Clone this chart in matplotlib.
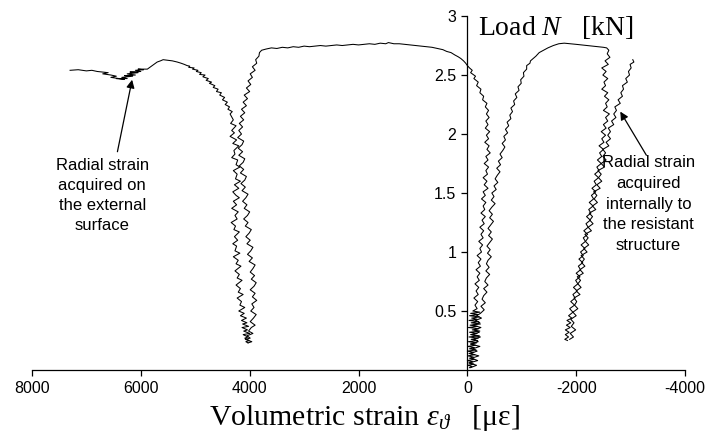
import matplotlib
matplotlib.use('Agg')
import matplotlib.pyplot as plt

plt.rcParams['font.family'] = ['Liberation Sans', 'DejaVu Sans']
plt.rcParams['mathtext.fontset'] = 'custom'
plt.rcParams['mathtext.rm'] = 'Liberation Serif'
plt.rcParams['mathtext.it'] = 'Liberation Serif:italic'

# (strain [microstrain], load [kN])

# radial strain on the external surface: left plateau, then left branch of the left V
ext_pts = [
    (7300, 2.54), (7150, 2.545), (7000, 2.535), (6900, 2.54), (6800, 2.53), (6700, 2.525),
    (6600, 2.52), (6700, 2.51), (6550, 2.50), (6450, 2.49), (6550, 2.48), (6400, 2.47),
    (6300, 2.465), (6450, 2.47), (6250, 2.47), (6350, 2.48), (6150, 2.49), (6300, 2.495),
    (6100, 2.50), (6250, 2.51), (6050, 2.52), (6200, 2.525), (6000, 2.53), (6100, 2.54),
    (5950, 2.545), (6050, 2.55), (5880, 2.55), (5820, 2.57), (5760, 2.59), (5700, 2.61),
    (5640, 2.62), (5590, 2.63), (5500, 2.625), (5420, 2.62), (5330, 2.61), (5260, 2.60),
    (5200, 2.59), (5150, 2.58), (5100, 2.575), (5120, 2.565), (5020, 2.56), (5050, 2.55),
    (4950, 2.54), (4980, 2.53), (4890, 2.52), (4920, 2.505), (4820, 2.50), (4860, 2.485),
    (4760, 2.47), (4800, 2.455), (4700, 2.44), (4740, 2.43), (4640, 2.41), (4670, 2.395),
    (4580, 2.38), (4610, 2.36), (4520, 2.35), (4550, 2.33), (4460, 2.31), (4500, 2.29),
    (4410, 2.27), (4450, 2.25), (4370, 2.23), (4400, 2.21), (4320, 2.19), (4360, 2.17),
    (4300, 2.12), (4350, 2.09), (4250, 2.07), (4330, 2.03), (4280, 2.01), (4360, 1.98),
    (4240, 1.95), (4310, 1.92), (4200, 1.90), (4290, 1.86), (4270, 1.83), (4330, 1.80),
    (4220, 1.78), (4250, 1.74), (4180, 1.72), (4300, 1.69), (4230, 1.66), (4260, 1.62),
    (4170, 1.60), (4280, 1.57), (4200, 1.54), (4310, 1.51), (4250, 1.48), (4190, 1.46),
    (4300, 1.43), (4240, 1.40), (4330, 1.37), (4210, 1.34), (4270, 1.31), (4230, 1.28),
    (4340, 1.25), (4260, 1.22), (4290, 1.19), (4190, 1.17), (4280, 1.13), (4220, 1.10),
    (4310, 1.07), (4240, 1.05), (4270, 1.01), (4180, 0.99), (4300, 0.96), (4210, 0.93),
    (4250, 0.90), (4160, 0.88), (4270, 0.84), (4190, 0.81), (4230, 0.78), (4140, 0.76),
    (4250, 0.72), (4170, 0.69), (4210, 0.66), (4120, 0.64), (4230, 0.61), (4150, 0.58),
    (4180, 0.55), (4090, 0.53), (4200, 0.50), (4100, 0.48), (4170, 0.46), (4060, 0.44),
    (4150, 0.42), (4050, 0.40), (4130, 0.39), (4020, 0.37), (4140, 0.36), (4040, 0.34),
    (4110, 0.33), (4000, 0.31), (4120, 0.30), (4030, 0.28), (4090, 0.27), (4010, 0.25),
    (4070, 0.24), (4030, 0.23),
]

# volumetric strain, first record: right branch of left V, long plateau, down to zero
vol1_pts = [
    (4030, 0.23), (3960, 0.24), (4080, 0.26), (3990, 0.27), (4050, 0.29), (3940, 0.31),
    (4020, 0.33), (3970, 0.36), (3900, 0.38), (3990, 0.41), (3930, 0.44), (3880, 0.47),
    (3980, 0.50), (3920, 0.53), (3960, 0.56), (3870, 0.59), (3950, 0.62), (3900, 0.65),
    (3990, 0.68), (3920, 0.71), (3880, 0.74), (3970, 0.77), (3910, 0.80), (3990, 0.83),
    (3940, 0.86), (3900, 0.89), (4010, 0.92), (3950, 0.95), (4040, 0.98), (3980, 1.01),
    (3940, 1.04), (4050, 1.07), (3990, 1.10), (4070, 1.13), (4010, 1.16), (3970, 1.19),
    (4080, 1.22), (4030, 1.25), (4110, 1.28), (4040, 1.31), (4000, 1.34), (4100, 1.37),
    (4050, 1.40), (4130, 1.43), (4070, 1.46), (4030, 1.49), (4140, 1.52), (4080, 1.55),
    (4160, 1.58), (4090, 1.61), (4060, 1.64), (4170, 1.67), (4110, 1.70), (4190, 1.73),
    (4120, 1.76), (4090, 1.79), (4200, 1.82), (4130, 1.85), (4210, 1.88), (4140, 1.91),
    (4110, 1.94), (4220, 1.97), (4150, 2.00), (4200, 2.03), (4130, 2.06), (4190, 2.09),
    (4110, 2.12), (4170, 2.15), (4090, 2.18), (4150, 2.21), (4060, 2.24), (4120, 2.27),
    (4040, 2.30), (4100, 2.33), (4000, 2.36), (4060, 2.39), (3980, 2.42), (4030, 2.45),
    (3950, 2.48), (3990, 2.51), (3900, 2.54), (3950, 2.57), (3870, 2.60), (3890, 2.63),
    (3830, 2.66), (3820, 2.69), (3780, 2.71), (3700, 2.72), (3600, 2.73), (3500, 2.725),
    (3400, 2.735), (3300, 2.73), (3200, 2.74), (3100, 2.735), (3000, 2.745), (2900, 2.74),
    (2800, 2.745), (2700, 2.75), (2600, 2.745), (2500, 2.75), (2400, 2.755), (2300, 2.75),
    (2200, 2.755), (2100, 2.76), (2000, 2.755), (1900, 2.76), (1800, 2.765), (1700, 2.76),
    (1600, 2.77), (1500, 2.765), (1450, 2.775), (1350, 2.765), (1250, 2.765), (1150, 2.76),
    (1050, 2.755), (950, 2.75), (850, 2.745), (750, 2.74), (650, 2.735), (550, 2.725),
    (450, 2.715), (380, 2.70), (300, 2.69), (230, 2.67), (170, 2.655), (120, 2.64),
    (70, 2.62), (30, 2.60), (0, 2.58), (-40, 2.56), (-90, 2.54), (-60, 2.52),
    (-150, 2.49), (-120, 2.47), (-200, 2.44), (-170, 2.41), (-250, 2.38), (-230, 2.35),
    (-300, 2.32), (-280, 2.29), (-360, 2.26), (-330, 2.23), (-390, 2.20), (-350, 2.17),
    (-400, 2.14), (-340, 2.11), (-380, 2.08), (-330, 2.05), (-410, 2.02), (-350, 1.99),
    (-390, 1.96), (-320, 1.93), (-400, 1.90), (-360, 1.87), (-420, 1.84), (-340, 1.81),
    (-380, 1.78), (-310, 1.75), (-390, 1.72), (-340, 1.69), (-370, 1.66), (-290, 1.63),
    (-360, 1.60), (-310, 1.57), (-380, 1.54), (-290, 1.51), (-330, 1.48), (-260, 1.45),
    (-340, 1.42), (-290, 1.39), (-320, 1.36), (-250, 1.33), (-330, 1.30), (-270, 1.27),
    (-310, 1.24), (-230, 1.21), (-300, 1.18), (-250, 1.15), (-290, 1.12), (-210, 1.09),
    (-280, 1.06), (-230, 1.03), (-260, 1.00), (-180, 0.97), (-250, 0.94), (-200, 0.91),
    (-240, 0.88), (-160, 0.85), (-230, 0.82), (-180, 0.79), (-220, 0.76), (-140, 0.73),
    (-210, 0.70), (-160, 0.67), (-200, 0.64), (-120, 0.61), (-190, 0.58), (-140, 0.55),
    (-180, 0.52), (-100, 0.50), (-230, 0.49), (-60, 0.48), (-200, 0.47), (-40, 0.46),
    (-220, 0.45), (-80, 0.44), (-180, 0.43), (-30, 0.42), (-210, 0.41), (-70, 0.40),
    (-240, 0.39), (-50, 0.38), (-190, 0.37), (-20, 0.36), (-210, 0.35), (-90, 0.34),
    (-230, 0.33), (-40, 0.32), (-180, 0.31), (-60, 0.30), (-220, 0.29), (-30, 0.28),
    (-200, 0.27), (-70, 0.26), (-190, 0.25), (-20, 0.24), (-170, 0.23), (-60, 0.22),
    (-150, 0.21), (-10, 0.20), (-130, 0.19), (-40, 0.18), (-160, 0.17), (0, 0.16),
    (-120, 0.15), (-30, 0.14), (-140, 0.13), (-10, 0.12), (-110, 0.11), (-40, 0.10),
    (-130, 0.09), (0, 0.08), (-100, 0.07), (-30, 0.06), (-120, 0.05), (-10, 0.04),
    (-90, 0.03), (-40, 0.02),
]

# volumetric strain, second record: up from zero, right plateau, left branch of right V
vol2_pts = [
    (-60, 0.02), (-170, 0.04), (-30, 0.06), (-190, 0.08), (-80, 0.10), (-210, 0.12),
    (-50, 0.14), (-180, 0.16), (-100, 0.18), (-230, 0.20), (-60, 0.22), (-200, 0.24),
    (-120, 0.26), (-240, 0.28), (-80, 0.30), (-220, 0.32), (-130, 0.34), (-250, 0.36),
    (-100, 0.38), (-230, 0.40), (-150, 0.42), (-260, 0.44), (-170, 0.46), (-240, 0.48),
    (-310, 0.51), (-250, 0.54), (-330, 0.57), (-270, 0.60), (-300, 0.63), (-360, 0.66),
    (-300, 0.69), (-380, 0.72), (-320, 0.75), (-350, 0.78), (-410, 0.81), (-340, 0.84),
    (-400, 0.87), (-350, 0.90), (-380, 0.93), (-440, 0.96), (-370, 0.99), (-420, 1.02),
    (-360, 1.05), (-410, 1.08), (-460, 1.11), (-390, 1.14), (-440, 1.17), (-380, 1.20),
    (-430, 1.23), (-480, 1.26), (-410, 1.29), (-460, 1.32), (-400, 1.35), (-450, 1.38),
    (-510, 1.41), (-440, 1.44), (-490, 1.47), (-450, 1.50), (-530, 1.53), (-490, 1.56),
    (-560, 1.59), (-510, 1.62), (-550, 1.65), (-600, 1.68), (-540, 1.71), (-610, 1.74),
    (-570, 1.77), (-640, 1.80), (-600, 1.83), (-650, 1.86), (-690, 1.89), (-640, 1.92),
    (-700, 1.95), (-670, 1.98), (-740, 2.01), (-700, 2.04), (-760, 2.07), (-730, 2.10),
    (-800, 2.13), (-780, 2.16), (-830, 2.19), (-800, 2.22), (-870, 2.25), (-850, 2.28),
    (-910, 2.31), (-880, 2.34), (-950, 2.37), (-930, 2.40), (-990, 2.43), (-980, 2.46),
    (-1040, 2.49), (-1030, 2.52), (-1090, 2.55), (-1090, 2.58), (-1150, 2.60), (-1160, 2.62),
    (-1210, 2.64), (-1260, 2.66), (-1320, 2.69), (-1400, 2.71), (-1480, 2.73), (-1580, 2.75),
    (-1680, 2.765), (-1780, 2.77), (-1900, 2.765), (-2000, 2.76), (-2100, 2.755), (-2200, 2.75),
    (-2300, 2.745), (-2400, 2.74), (-2500, 2.735), (-2560, 2.73), (-2600, 2.71), (-2570, 2.68),
    (-2620, 2.65), (-2530, 2.62), (-2590, 2.59), (-2470, 2.56), (-2550, 2.53), (-2490, 2.50),
    (-2580, 2.47), (-2510, 2.44), (-2540, 2.41), (-2470, 2.38), (-2580, 2.35), (-2520, 2.32),
    (-2600, 2.29), (-2540, 2.26), (-2570, 2.23), (-2500, 2.20), (-2610, 2.17), (-2540, 2.14),
    (-2580, 2.11), (-2500, 2.08), (-2550, 2.05), (-2460, 2.02), (-2540, 1.99), (-2470, 1.96),
    (-2510, 1.93), (-2420, 1.90), (-2500, 1.87), (-2430, 1.84), (-2470, 1.81), (-2390, 1.78),
    (-2460, 1.75), (-2380, 1.72), (-2420, 1.69), (-2340, 1.66), (-2410, 1.63), (-2330, 1.60),
    (-2370, 1.57), (-2290, 1.54), (-2360, 1.51), (-2280, 1.48), (-2320, 1.45), (-2240, 1.42),
    (-2310, 1.39), (-2230, 1.36), (-2270, 1.33), (-2190, 1.30), (-2260, 1.27), (-2180, 1.24),
    (-2220, 1.21), (-2140, 1.18), (-2210, 1.15), (-2130, 1.12), (-2170, 1.09), (-2090, 1.06),
    (-2160, 1.03), (-2080, 1.00), (-2130, 0.97), (-2050, 0.94), (-2120, 0.91), (-2040, 0.88),
    (-2080, 0.85), (-2000, 0.82), (-2070, 0.79), (-1990, 0.76), (-2030, 0.73), (-1950, 0.70),
    (-2020, 0.67), (-1940, 0.64), (-1980, 0.61), (-1900, 0.58), (-1970, 0.55), (-1880, 0.52),
    (-1940, 0.49), (-1860, 0.46), (-1920, 0.44), (-1830, 0.42), (-1900, 0.40), (-1820, 0.38),
    (-1890, 0.36), (-1800, 0.34), (-1870, 0.32), (-1800, 0.30), (-1860, 0.28), (-1790, 0.26),
    (-1840, 0.25),
]

# radial strain acquired inside the resistant structure: right branch of right V
int_pts = [
    (-1880, 0.26), (-1950, 0.28), (-1890, 0.31), (-1990, 0.34), (-1910, 0.37), (-1960, 0.40),
    (-1900, 0.43), (-2000, 0.46), (-1940, 0.49), (-2030, 0.52), (-1970, 0.55), (-2010, 0.58),
    (-1960, 0.61), (-2070, 0.64), (-2000, 0.67), (-2090, 0.70), (-2030, 0.73), (-2080, 0.76),
    (-2020, 0.79), (-2130, 0.82), (-2070, 0.85), (-2160, 0.88), (-2100, 0.91), (-2150, 0.94),
    (-2090, 0.97), (-2200, 1.00), (-2140, 1.03), (-2230, 1.06), (-2170, 1.09), (-2220, 1.12),
    (-2160, 1.15), (-2280, 1.18), (-2220, 1.21), (-2310, 1.24), (-2250, 1.27), (-2300, 1.30),
    (-2240, 1.33), (-2360, 1.36), (-2300, 1.39), (-2390, 1.42), (-2330, 1.45), (-2380, 1.48),
    (-2320, 1.51), (-2440, 1.54), (-2380, 1.57), (-2470, 1.60), (-2410, 1.63), (-2460, 1.66),
    (-2400, 1.69), (-2520, 1.72), (-2460, 1.75), (-2550, 1.78), (-2490, 1.81), (-2540, 1.84),
    (-2490, 1.87), (-2600, 1.90), (-2550, 1.93), (-2630, 1.96), (-2580, 1.99), (-2630, 2.02),
    (-2590, 2.05), (-2690, 2.08), (-2650, 2.11), (-2730, 2.14), (-2690, 2.17), (-2740, 2.20),
    (-2710, 2.23), (-2810, 2.26), (-2770, 2.29), (-2850, 2.32), (-2820, 2.35), (-2870, 2.38),
    (-2850, 2.41), (-2940, 2.44), (-2910, 2.47), (-2980, 2.50), (-2960, 2.53), (-3010, 2.56),
    (-2990, 2.59), (-3060, 2.61), (-3040, 2.63),
]

x_ticks = [8000, 6000, 4000, 2000, 0, -2000, -4000]
y_ticks = [0.5, 1, 1.5, 2, 2.5, 3]
y_ticklabels = ['0.5', '1', '1.5', '2', '2.5', '3']

fig = plt.figure(figsize=(7.06, 4.32), dpi=100)
ax = fig.add_axes([0.0453, 0.1435, 0.925, 0.8194])

for pts in [ext_pts, vol1_pts, vol2_pts, int_pts]:
    xs, ys = zip(*pts)
    ax.plot(xs, ys, color='black', lw=0.75)

ax.set_xlim(8000, -4000)
ax.set_ylim(0, 3)
ax.spines['top'].set_visible(False)
ax.spines['right'].set_visible(False)
ax.spines['left'].set_position(('data', 0))
ax.spines['left'].set_linewidth(0.9)
ax.spines['bottom'].set_linewidth(0.9)
ax.set_xticks(x_ticks)
ax.set_xticklabels([str(t) for t in x_ticks])
ax.set_yticks(y_ticks)
ax.set_yticklabels(y_ticklabels)
ax.tick_params(direction='out', length=4, width=0.9, labelsize=11.5, pad=4)

# axis titles (serif, as in the original)
ax.text(-190, 2.839, 'Load $N$   [kN]', fontsize=20, family='Liberation Serif',
        ha='left', va='baseline')
fig.text(364 / 706, 1 - 425 / 432,
         r'Volumetric strain $\varepsilon_\vartheta$   [$\mathrm{\mu\varepsilon}$]',
         fontsize=21.5, family='Liberation Serif', ha='center', va='baseline')

ax.text(6710, 1.80, 'Radial strain\nacquired on\nthe external\nsurface',
        ha='center', va='top', fontsize=12, linespacing=1.42)
ax.annotate('', xy=(6160, 2.46), xytext=(6430, 1.85),
            arrowprops=dict(arrowstyle='-|>', color='black', lw=0.9,
                            mutation_scale=12, shrinkA=0, shrinkB=0))

ax.text(-3327, 1.82, 'Radial strain\nacquired\ninternally to\nthe resistant\nstructure',
        ha='center', va='top', fontsize=12, linespacing=1.47)
ax.annotate('', xy=(-2810, 2.19), xytext=(-3290, 1.82),
            arrowprops=dict(arrowstyle='-|>', color='black', lw=0.9,
                            mutation_scale=12, shrinkA=0, shrinkB=0))

fig.savefig('out.png', dpi=100)
